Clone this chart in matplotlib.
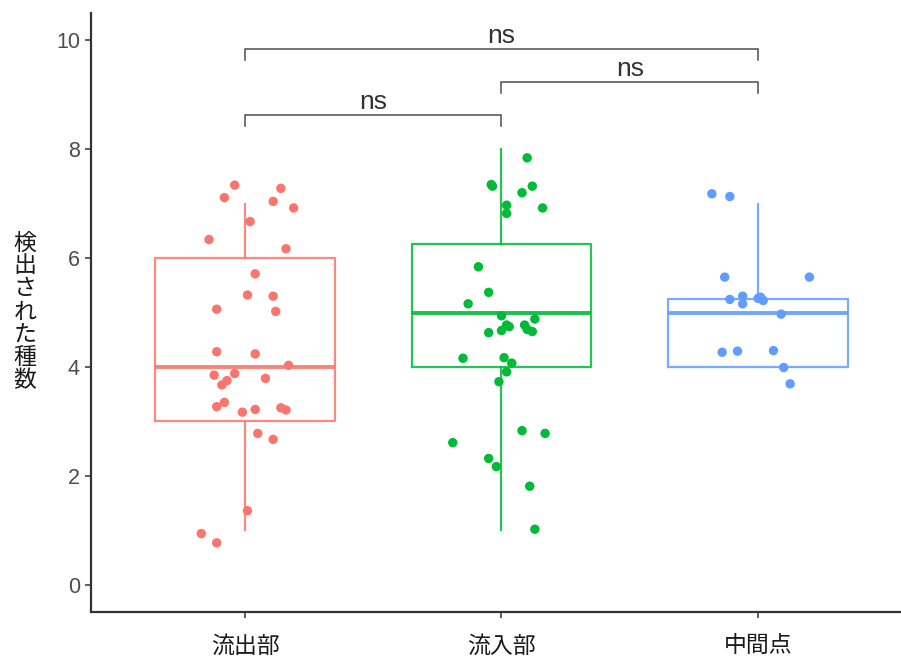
import numpy as np
import matplotlib
matplotlib.use("Agg")
import matplotlib.pyplot as plt

plt.rcParams["font.family"] = ["Liberation Sans", "Noto Sans CJK JP", "DejaVu Sans"]

# Sites on the x axis
categories = ["流出部", "流入部", "中間点"]
colors = ["#F8766D", "#00BA38", "#619CFF"]

# Detected species per sample (jittered display values) and horizontal jitter (category units)
outflow_y = [7.34, 7.28, 7.11, 7.04, 6.92, 6.67, 6.34, 6.17, 5.71, 5.32, 5.30, 5.06,
             5.02, 4.28, 4.24, 4.03, 3.85, 3.88, 3.75, 3.67, 3.79, 3.27, 3.35, 3.17,
             3.22, 3.25, 3.21, 2.78, 2.67, 1.36, 0.94, 0.77]
outflow_dx = [-0.04, 0.14, -0.08, 0.11, 0.19, 0.02, -0.14, 0.16, 0.04, 0.01, 0.11, -0.11,
              0.12, -0.11, 0.04, 0.17, -0.12, -0.04, -0.07, -0.09, 0.08, -0.11, -0.08, -0.01,
              0.04, 0.14, 0.16, 0.05, 0.11, 0.01, -0.17, -0.11]

inflow_y = [7.84, 7.35, 7.32, 7.32, 7.20, 6.97, 6.82, 6.92, 5.84, 5.37, 5.16, 4.94,
            4.88, 4.77, 4.74, 4.77, 4.69, 4.65, 4.63, 4.67, 4.16, 4.17, 4.07, 3.91,
            3.73, 2.83, 2.78, 2.61, 2.32, 2.17, 1.81, 1.02]
inflow_dx = [0.10, -0.04, -0.035, 0.12, 0.08, 0.02, 0.02, 0.16, -0.09, -0.05, -0.13, 0.00,
             0.13, 0.02, 0.03, 0.09, 0.10, 0.12, -0.05, 0.00, -0.15, 0.01, 0.04, 0.02,
             -0.01, 0.08, 0.17, -0.19, -0.05, -0.02, 0.11, 0.13]

midpoint_y = [7.18, 7.13, 5.65, 5.65, 5.24, 5.30, 5.16, 5.26, 5.22, 5.28, 4.97, 4.27,
              4.29, 4.30, 3.99, 3.69]
midpoint_dx = [-0.18, -0.11, -0.13, 0.20, -0.11, -0.06, -0.06, 0.00, 0.02, 0.01, 0.09, -0.14,
               -0.08, 0.06, 0.10, 0.125]

groups_y = [outflow_y, inflow_y, midpoint_y]
groups_dx = [outflow_dx, inflow_dx, midpoint_dx]

# Pairwise comparisons: (group a, group b, bracket height, label)
comparisons = [(1, 2, 8.62, "ns"), (2, 3, 9.23, "ns"), (1, 3, 9.83, "ns")]

y_ticks = [0, 2, 4, 6, 8, 10]
y_label = "検出された種数"

W, H = 901, 657
fig = plt.figure(figsize=(W / 100, H / 100), dpi=100)
ax = fig.add_axes([91 / W, (H - 612) / H, (912 - 91) / W, (612 - 13) / H])

positions = np.arange(1, len(categories) + 1)

# Box statistics from the underlying integer counts
counts = [np.round(np.array(g)) for g in groups_y]
for i, (vals, col) in enumerate(zip(counts, colors)):
    bp = ax.boxplot([vals], positions=[positions[i]], widths=0.7, whis=1.5,
                    showfliers=False, showcaps=False, patch_artist=False,
                    manage_ticks=False)
    for b in bp["boxes"]:
        b.set_color(col); b.set_linewidth(1.6); b.set_alpha(0.85)
    for w in bp["whiskers"]:
        w.set_color(col); w.set_linewidth(1.6); w.set_alpha(0.85)
    for m in bp["medians"]:
        m.set_color(col); m.set_linewidth(2.8); m.set_alpha(0.9)

for i, (ys, dxs, col) in enumerate(zip(groups_y, groups_dx, colors)):
    xs = positions[i] + np.array(dxs)
    ax.scatter(xs, ys, s=46, color=col, edgecolors="none", zorder=3)

# Significance brackets
tick_len = 0.2
for a, b, h, lab in comparisons:
    ax.plot([a, a, b, b], [h - tick_len, h, h, h - tick_len],
            color="#4D4D4D", lw=1.1, solid_joinstyle="miter", zorder=2)
    ax.text((a + b) / 2, h + 0.12, lab, ha="center", va="baseline",
            fontsize=19, color="#333333")

ax.set_xlim(0.4, 3.6)
ax.set_ylim(-0.5, 10.5)
ax.set_xticks(positions)
ax.set_xticklabels(categories, fontsize=16.5, color="#1A1A1A",
                   family=["Noto Sans CJK JP", "DejaVu Sans"])
ax.set_yticks(y_ticks)
ax.set_yticklabels([str(t) for t in y_ticks], fontsize=15.5, color="#4D4D4D")
ax.tick_params(axis="both", length=4, width=1.1, color="#333333")
ax.tick_params(axis="x", pad=12)
ax.tick_params(axis="y", pad=4)

for side in ["top", "right"]:
    ax.spines[side].set_visible(False)
for side in ["left", "bottom"]:
    ax.spines[side].set_color("#333333")
    ax.spines[side].set_linewidth(1.6)

fig.text(25 / W, (H - 312) / H, "\n".join(y_label), ha="center", va="center",
         fontsize=16.5, linespacing=1.0, color="#1A1A1A",
         family=["Noto Sans CJK JP", "DejaVu Sans"])

fig.savefig("out.png", dpi=100)
